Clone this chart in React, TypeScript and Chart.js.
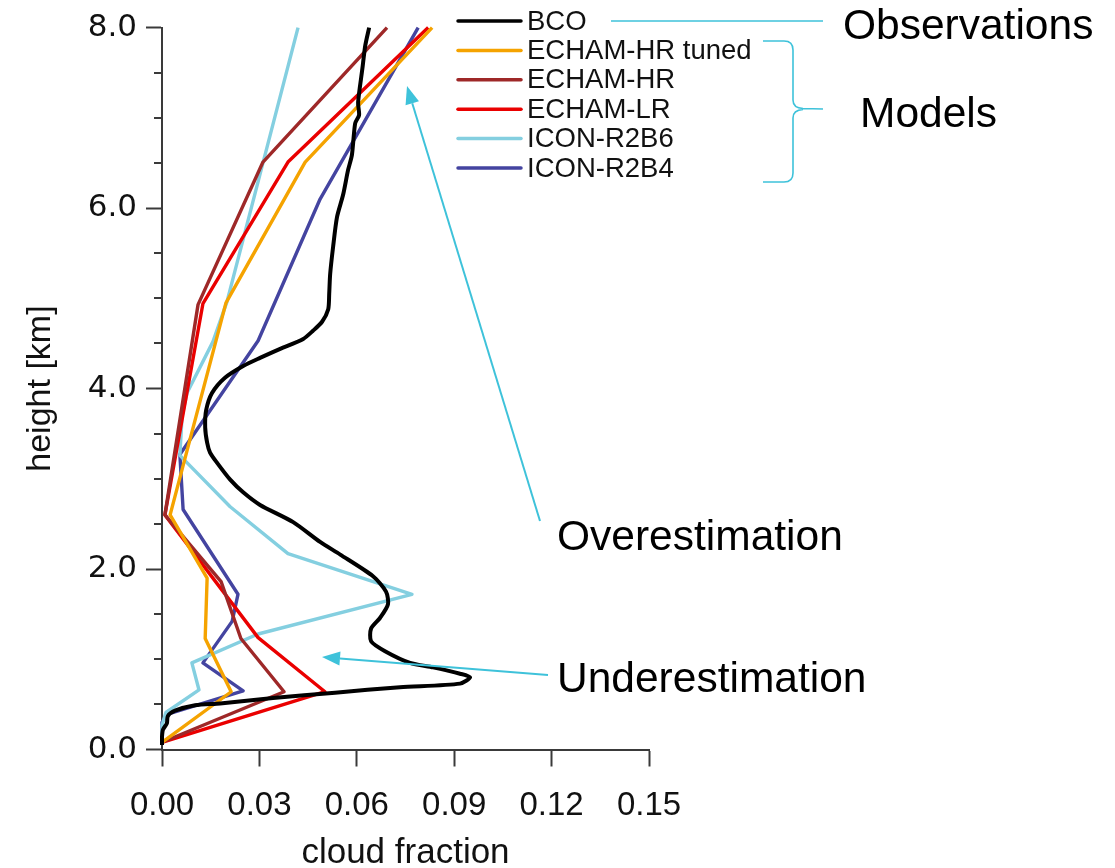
import React, { useEffect, useRef } from 'react';
import { Chart, registerables } from 'chart.js';

Chart.register(...registerables);

// ---------- data ----------
const seriesLabels = ['BCO', 'ECHAM-HR tuned', 'ECHAM-HR', 'ECHAM-LR', 'ICON-R2B6', 'ICON-R2B4'];
const seriesColors = ['#000000', '#F5A300', '#9E2828', '#EA0000', '#84CFE0', '#4444A0'];

const bcoHeight = [8.0, 7.8, 7.54, 7.17, 7.03, 6.94, 6.59, 6.42, 6.15, 5.9, 5.57, 5.27, 5.05, 4.88, 4.74, 4.64, 4.55, 4.44, 4.34, 4.25, 4.12, 3.95, 3.76, 3.57, 3.4, 3.29, 3.18, 2.99, 2.85, 2.71, 2.52, 2.3, 2.16, 1.92, 1.75, 1.61, 1.46, 1.34, 1.2, 1.09, 0.96, 0.91, 0.84, 0.8, 0.73, 0.69, 0.63, 0.57, 0.51, 0.49, 0.43, 0.37, 0.29, 0.22, 0.14, 0.05];
const bcoFraction = [0.0638, 0.0626, 0.0617, 0.0604, 0.0607, 0.0595, 0.0585, 0.0573, 0.0558, 0.0539, 0.0527, 0.0518, 0.0515, 0.0512, 0.0493, 0.0465, 0.0435, 0.0364, 0.0302, 0.025, 0.0194, 0.0154, 0.0136, 0.0133, 0.0139, 0.0148, 0.0169, 0.021, 0.025, 0.0302, 0.0404, 0.0487, 0.0549, 0.065, 0.069, 0.0696, 0.0672, 0.0644, 0.0644, 0.0687, 0.0764, 0.0835, 0.0918, 0.0949, 0.0918, 0.0733, 0.0533, 0.0342, 0.0179, 0.0102, 0.004, 0.0018, 0.0015, 0.0003, 0.0, 0.0];

const echamHrTunedHeight = [8.0, 6.51, 4.95, 2.6, 1.9, 1.23, 0.64, 0.08];
const echamHrTunedFraction = [0.0832, 0.0441, 0.0197, 0.0025, 0.0139, 0.0133, 0.0213, 0.0];

const echamHrHeight = [8.0, 6.51, 4.93, 2.6, 1.86, 1.23, 0.64, 0.08];
const echamHrFraction = [0.0693, 0.0311, 0.0111, 0.0009, 0.0182, 0.0243, 0.0376, 0.0];

const echamLrHeight = [8.0, 6.51, 4.94, 2.6, 1.24, 0.64, 0.08];
const echamLrFraction = [0.082, 0.0388, 0.0126, 0.0009, 0.0296, 0.0502, 0.0];

const iconR2B6Height = [8.0, 4.96, 4.52, 3.95, 3.7, 3.26, 2.69, 2.17, 1.72, 1.28, 0.96, 0.66, 0.41, 0.27, 0.08];
const iconR2B6Fraction = [0.0419, 0.02, 0.0157, 0.0077, 0.0062, 0.0055, 0.021, 0.0388, 0.077, 0.0296, 0.0092, 0.0114, 0.0012, 0.0, 0.0];

const iconR2B4Height = [8.0, 6.1, 4.53, 3.27, 2.66, 1.72, 1.42, 0.96, 0.65, 0.39, 0.3, 0.08];
const iconR2B4Fraction = [0.0789, 0.0487, 0.0296, 0.0055, 0.0065, 0.0234, 0.0216, 0.0126, 0.025, 0.0015, 0.0, 0.0];

const xTickValues = [0, 0.03, 0.06, 0.09, 0.12, 0.15];
const xTickLabels = ['0.00', '0.03', '0.06', '0.09', '0.12', '0.15'];
const yTickValues = [0, 2, 4, 6, 8];
const yTickLabels = ['0.0', '2.0', '4.0', '6.0', '8.0'];
const yMinorTickValues = [0.5, 1, 1.5, 2.5, 3, 3.5, 4.5, 5, 5.5, 6.5, 7, 7.5];

const xTitle = 'cloud fraction';
const yTitle = 'height [km]';

const annotationTexts = ['Observations', 'Models', 'Overestimation', 'Underestimation'];

// ---------- helpers ----------
const heights = [bcoHeight, echamHrTunedHeight, echamHrHeight, echamLrHeight, iconR2B6Height, iconR2B4Height];
const fractions = [bcoFraction, echamHrTunedFraction, echamHrFraction, echamLrFraction, iconR2B6Fraction, iconR2B4Fraction];

const FONT = '"Liberation Sans", Arial, Helvetica, sans-serif';
const AXIS_COLOR = '#3a3a3a';
const ANNO_COLOR = '#3EC2DA';

const minorTicksPlugin = {
  id: 'minorTicks',
  afterDraw(chart: any) {
    const ctx = chart.ctx;
    const y = chart.scales.y;
    const left = chart.chartArea.left;
    ctx.save();
    ctx.strokeStyle = AXIS_COLOR;
    ctx.lineWidth = 2;
    yMinorTickValues.forEach((v) => {
      const py = Math.round(y.getPixelForValue(v));
      ctx.beginPath();
      ctx.moveTo(left - 8, py);
      ctx.lineTo(left, py);
      ctx.stroke();
    });
    ctx.restore();
  },
};

const legendPlugin = {
  id: 'customLegend',
  afterDraw(chart: any) {
    const ctx = chart.ctx;
    ctx.save();
    ctx.font = `27.5px ${FONT}`;
    ctx.textBaseline = 'middle';
    ctx.textAlign = 'left';
    chart.data.datasets.forEach((ds: any, i: number) => {
      const y = 21 + i * 29.4;
      ctx.strokeStyle = ds.borderColor;
      ctx.lineWidth = 3.5;
      ctx.lineCap = 'round';
      ctx.beginPath();
      ctx.moveTo(458, y);
      ctx.lineTo(521, y);
      ctx.stroke();
      ctx.fillStyle = '#111';
      ctx.fillText(ds.label, 527, y + 1);
    });
    ctx.restore();
  },
};

function arrow(ctx: CanvasRenderingContext2D, x1: number, y1: number, x2: number, y2: number) {
  const ang = Math.atan2(y2 - y1, x2 - x1);
  const hl = 18;
  const hw = 7;
  const bx = x2 - hl * Math.cos(ang);
  const by = y2 - hl * Math.sin(ang);
  ctx.beginPath();
  ctx.moveTo(x1, y1);
  ctx.lineTo(bx, by);
  ctx.stroke();
  ctx.beginPath();
  ctx.moveTo(x2, y2);
  ctx.lineTo(bx + hw * Math.sin(ang), by - hw * Math.cos(ang));
  ctx.lineTo(bx - hw * Math.sin(ang), by + hw * Math.cos(ang));
  ctx.closePath();
  ctx.fill();
}

const annotationPlugin = {
  id: 'annotations',
  afterDraw(chart: any) {
    const ctx = chart.ctx;
    ctx.save();
    ctx.strokeStyle = ANNO_COLOR;
    ctx.fillStyle = ANNO_COLOR;
    ctx.lineWidth = 1.6;
    // observation pointer
    ctx.beginPath();
    ctx.moveTo(611, 21);
    ctx.lineTo(823, 21);
    ctx.stroke();
    // brace
    ctx.beginPath();
    ctx.moveTo(763, 41);
    ctx.lineTo(784, 41);
    ctx.quadraticCurveTo(793, 41, 793, 50);
    ctx.lineTo(793, 100);
    ctx.quadraticCurveTo(793, 108, 803, 108.5);
    ctx.lineTo(823, 109);
    ctx.moveTo(803, 109.5);
    ctx.quadraticCurveTo(793, 110, 793, 118);
    ctx.lineTo(793, 173);
    ctx.quadraticCurveTo(793, 182, 784, 182);
    ctx.lineTo(763, 182);
    ctx.stroke();
    // arrows
    ctx.lineWidth = 2;
    arrow(ctx, 540, 521, 407, 86);
    arrow(ctx, 548, 675, 322, 657);
    // texts
    ctx.fillStyle = '#000';
    ctx.font = `42.5px ${FONT}`;
    ctx.textAlign = 'left';
    ctx.textBaseline = 'alphabetic';
    ctx.fillText(annotationTexts[0], 843, 39);
    ctx.fillText(annotationTexts[1], 860, 127);
    ctx.fillText(annotationTexts[2], 557, 550);
    ctx.fillText(annotationTexts[3], 557, 692);
    ctx.restore();
  },
};

export default function App() {
  const ref = useRef<HTMLCanvasElement>(null);

  useEffect(() => {
    document.body.style.margin = '0';
    const canvas = ref.current;
    if (!canvas) return;

    const datasets = seriesLabels.map((label, i) => ({
      label,
      data: heights[i].map((h, j) => ({ x: fractions[i][j], y: h })),
      borderColor: seriesColors[i],
      backgroundColor: seriesColors[i],
      borderWidth: i === 0 ? 4 : 3.4,
      pointRadius: 0,
      showLine: true,
      fill: false,
      tension: i === 0 ? 0.25 : 0,
      clip: false as any,
      borderJoinStyle: 'round' as const,
    }));

    const chart = new Chart(canvas, {
      type: 'scatter',
      data: { datasets },
      options: {
        animation: false,
        responsive: false,
        maintainAspectRatio: false,
        devicePixelRatio: 1,
        layout: { padding: { left: 0, top: 21.5, right: 466, bottom: 0 } },
        plugins: {
          legend: { display: false },
          tooltip: { enabled: false },
        },
        scales: {
          x: {
            type: 'linear',
            min: 0,
            max: 0.15,
            afterBuildTicks: (s: any) => {
              s.ticks = xTickValues.map((v) => ({ value: v }));
            },
            afterFit: (s: any) => {
              s.height = 118.5;
            },
            ticks: {
              autoSkip: false,
              maxRotation: 0,
              padding: 20,
              color: '#111',
              font: { family: FONT, size: 33 },
              callback: (_v: any, idx: number) => xTickLabels[idx],
            },
            grid: {
              display: true,
              drawOnChartArea: false,
              drawTicks: true,
              tickLength: 17,
              tickColor: AXIS_COLOR,
              tickWidth: 2,
              color: AXIS_COLOR,
            },
            border: { display: true, color: AXIS_COLOR, width: 2 },
            title: {
              display: true,
              text: xTitle,
              color: '#111',
              font: { family: FONT, size: 35, lineHeight: 0.83 },
              padding: { top: 0, bottom: 0 },
            },
          },
          y: {
            type: 'linear',
            min: 0,
            max: 8,
            afterBuildTicks: (s: any) => {
              s.ticks = yTickValues.map((v) => ({ value: v }));
            },
            afterFit: (s: any) => {
              s.width = 162;
            },
            ticks: {
              autoSkip: false,
              padding: 9,
              color: '#111',
              font: { family: '"DejaVu Sans", sans-serif', size: 31 },
              callback: (_v: any, idx: number) => yTickLabels[idx],
            },
            grid: {
              display: true,
              drawOnChartArea: false,
              drawTicks: true,
              tickLength: 16,
              tickColor: AXIS_COLOR,
              tickWidth: 2,
              color: AXIS_COLOR,
            },
            border: { display: true, color: AXIS_COLOR, width: 2 },
            title: {
              display: true,
              text: yTitle,
              color: '#111',
              font: { family: FONT, size: 34, lineHeight: 1 },
              padding: { top: 24, bottom: 0 },
            },
          },
        },
      },
      plugins: [minorTicksPlugin, legendPlugin, annotationPlugin],
    });

    return () => chart.destroy();
  }, []);

  return (
    <div style={{ position: 'relative', width: 1115, height: 868, background: '#fff' }}>
      <canvas ref={ref} width={1115} height={868} style={{ display: 'block', width: 1115, height: 868 }} />
    </div>
  );
}
